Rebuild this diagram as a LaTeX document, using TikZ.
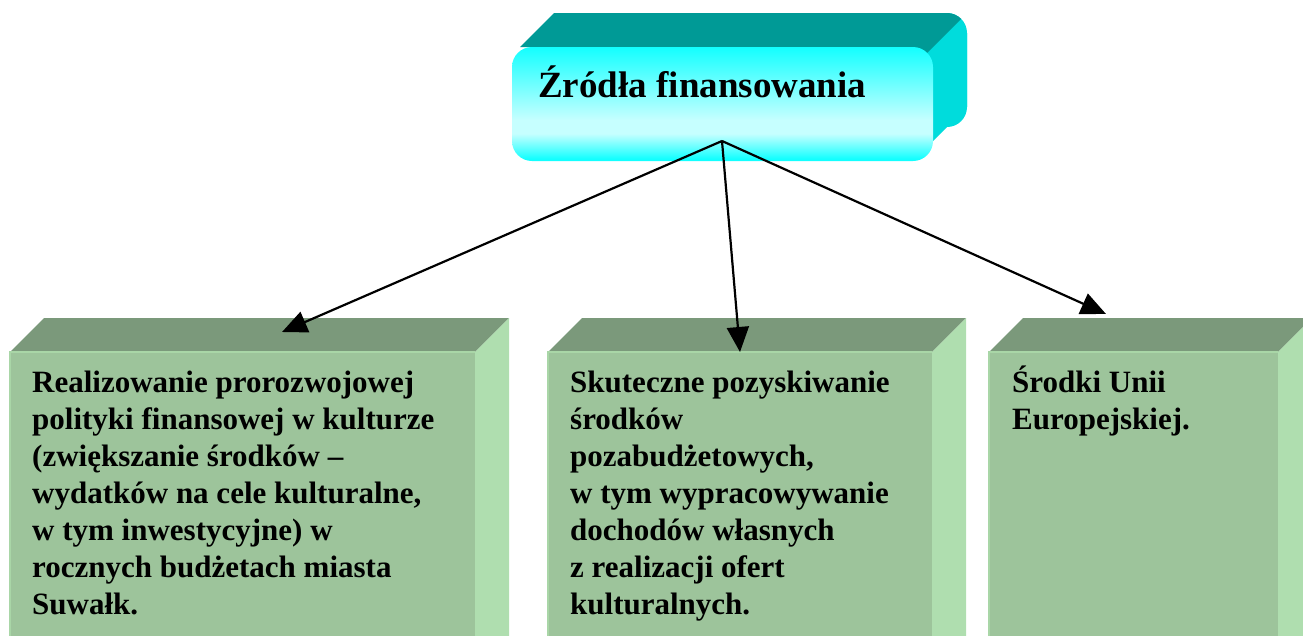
\documentclass[tikz,border=0pt]{standalone}
\usepackage{fontspec}
\setmainfont{Liberation Serif}
\usetikzlibrary{arrows.meta}
\definecolor{gfront}{HTML}{9DC49B}
\definecolor{gtop}{HTML}{7B997B}
\definecolor{gside}{HTML}{AFDEAF}
\definecolor{gedge}{HTML}{A9D6A7}
\definecolor{cside}{HTML}{00DCDC}
\definecolor{ctop}{HTML}{009A96}
\definecolor{cmain}{HTML}{13FFFF}
\definecolor{clight}{HTML}{C6FFFF}
\pgfdeclareverticalshading{cyanface}{100bp}{color(0bp)=(cmain); color(26bp)=(cmain); color(37bp)=(clight); color(43bp)=(clight); color(75bp)=(cmain); color(100bp)=(cmain)}
\newcommand{\boxlines}[1]{\parbox[t]{500pt}{\raggedright #1}}
\tikzset{
  boxtext/.style={anchor=base west, align=left, inner sep=0pt, font=\bfseries\fontsize{31}{37}\selectfont},
  conn/.style={line width=2.2pt, -{Triangle[length=25pt,width=22pt]}},
}
\begin{document}
\begin{tikzpicture}[x=1pt,y=-1pt]
\useasboundingbox (0,0) rectangle (1303,635);
\clip (0,0) rectangle (1303,635);
% top 3D rounded box
\fill[cside, rounded corners=20pt] (546,13) rectangle (967,127);
\fill[cside] (933,67) -- (967,33) -- (967,107) -- (933,141) -- cycle;
\fill[ctop] (520,47) -- (554,13) -- (947,13) arc[start angle=-90,end angle=-45,radius=20] -- (925,55) -- cycle;
\shade[shading=cyanface, rounded corners=20pt] (512,47) rectangle (933,161);
\node[anchor=base west, inner sep=0pt, font=\bfseries\fontsize{37}{42}\selectfont] (title) at (538,97) {Źródła finansowania};
\coordinate (src) at (722,141);
% green boxes
\foreach \l/\r in {10/475, 548/932, 989/1278} {
  \fill[gtop] (\l,352) -- (\l+34,318) -- (\r+34,318) -- (\r,352) -- cycle;
  \fill[gside] (\r,352) -- (\r+34,318) -- (\r+34,700) -- (\r,734) -- cycle;
  \fill[gfront] (\l,352) rectangle (\r,700);
  \draw[gedge, line width=1.5pt] (\l,700) -- (\l,352) -- (\r,352);
}
\node[boxtext] (b1) at (32,392) {\boxlines{Realizowanie prorozwojowej\\polityki finansowej w kulturze\\(zwiększanie środków –\\wydatków na cele kulturalne,\\w tym inwestycyjne) w\\rocznych budżetach miasta\\Suwałk.}};
\node[boxtext] (b2) at (570,392) {\boxlines{Skuteczne pozyskiwanie\\środków\\pozabudżetowych,\\w tym wypracowywanie\\dochodów własnych\\z realizacji ofert\\kulturalnych.}};
\node[boxtext] (b3) at (1012,392) {\boxlines{Środki Unii\\Europejskiej.}};
\coordinate (t1) at (282,332);
\coordinate (t2) at (740,352);
\coordinate (t3) at (1106,314);
\draw[conn] (src) -- (t1);
\draw[conn] (src) -- (t2);
\draw[conn] (src) -- (t3);
\end{tikzpicture}
\end{document}
